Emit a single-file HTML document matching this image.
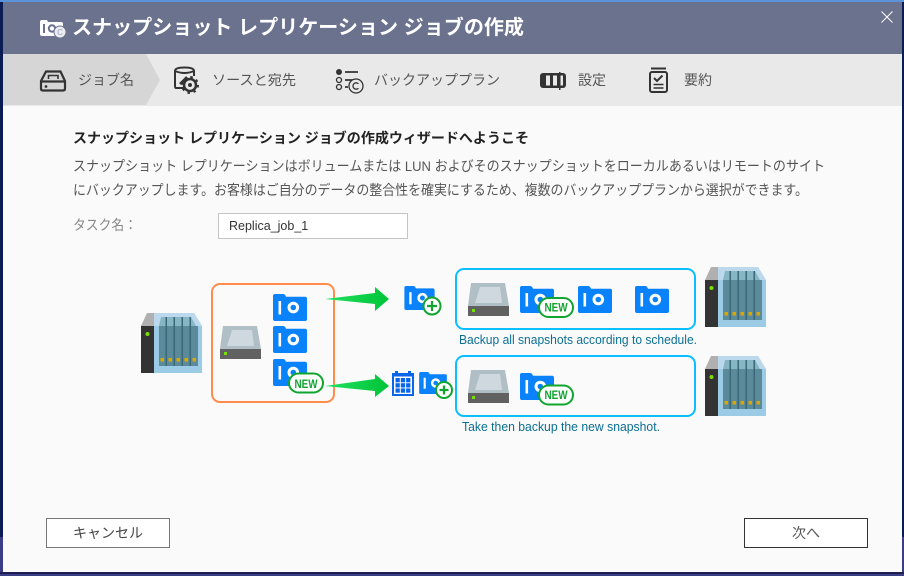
<!DOCTYPE html>
<html lang="ja">
<head>
<meta charset="utf-8">
<title>スナップショット レプリケーション ジョブの作成</title>
<style>
html,body{margin:0;padding:0;width:904px;height:576px;overflow:hidden;background:#0b1c52}
svg{display:block;position:absolute;left:0;top:0}
text{font-family:"Liberation Sans","Noto Sans CJK JP",sans-serif}
</style>
</head>
<body>
<svg width="904" height="576" viewBox="0 0 904 576" xmlns="http://www.w3.org/2000/svg">
<defs>
<linearGradient id="ag" x1="0" y1="0" x2="1" y2="0"><stop offset="0" stop-color="#22e060"/><stop offset="1" stop-color="#00c438"/></linearGradient>
<symbol id="cam" viewBox="0 0 34 27" width="34" height="27" overflow="visible">
  <path d="M0 2Q0 0 2 0H10Q12 0 13 2.700H32Q34 2.700 34 4.700V25Q34 27 32 27H2Q0 27 0 25Z" fill="#0a82fb"/>
  <rect x="5.500" y="7" width="2.600" height="13.500" fill="#fff"/>
  <circle cx="20.300" cy="13.500" r="4.300" fill="none" stroke="#fff" stroke-width="3"/>
</symbol>
<symbol id="hdd" viewBox="0 0 41 33" width="41" height="33">
  <path d="M3 0H37L41 23H0Z" fill="#b0bec5"/>
  <path d="M12 4H32L34 20H7Z" fill="#cfd8de"/>
  <rect x="0" y="23" width="41" height="10" fill="#616161"/>
  <rect x="4" y="26" width="3" height="3" fill="#76e000"/>
</symbol>
<symbol id="nas" viewBox="0 0 61 60" width="61" height="60">
  <path d="M0 13L6 0H13V13Z" fill="#b0b0b0"/>
  <rect x="0" y="13" width="13" height="47" fill="#333"/>
  <path d="M13 0H53L61 13V60H13Z" fill="#9ccbe6"/>
  <path d="M13 0H53L61 13H13Z" fill="#bcd8ec"/>
  <rect x="18" y="13" width="39" height="40" fill="#5b8a9b"/>
  <path d="M18 13L20 4H50L55 13Z" fill="#86b6c4"/>
  <g fill="#3b6876"><rect x="24.500" y="4" width="1.500" height="49"/><rect x="32.500" y="4" width="1.500" height="49"/><rect x="40.500" y="4" width="1.500" height="49"/><rect x="48.500" y="4" width="1.500" height="49"/></g>
  <g fill="#dca800"><rect x="19.500" y="45" width="3.500" height="3.500"/><rect x="27.500" y="45" width="3.500" height="3.500"/><rect x="35.500" y="45" width="3.500" height="3.500"/><rect x="43.500" y="45" width="3.500" height="3.500"/><rect x="51.500" y="45" width="3.500" height="3.500"/></g>
  <circle cx="6.500" cy="21" r="2" fill="#78dc00"/>
</symbol>
</defs>

<!-- desktop behind the window -->
<rect x="0" y="0" width="904" height="576" fill="#0b1c52"/>
<rect x="0" y="0" width="904" height="2" fill="#5b93d8"/>
<rect x="0" y="537" width="904" height="39" fill="#3b3d86"/>
<rect x="0" y="572" width="904" height="2" fill="#1c1f50"/>

<!-- window -->
<rect x="3" y="2" width="899" height="570" fill="#fafafa"/>
<rect x="3" y="2" width="899" height="52" fill="#6b728e"/>
<rect x="3" y="54" width="899" height="52" fill="#e9e9e9"/>
<path d="M3 54H146L160 80L146 105H3Z" fill="#d6d6d6"/>

<!-- title -->
<path d="M40 22Q40 20 42 20H47L48 22H61Q63 22 63 24V34Q63 36 61 36H42Q40 36 40 34Z" fill="#fff"/>
<rect x="43" y="24" width="2" height="9" fill="#6b728e"/>
<circle cx="52" cy="28.500" r="3.200" fill="none" stroke="#6b728e" stroke-width="2"/>
<circle cx="60" cy="32" r="6" fill="#eceef3" stroke="#6b728e" stroke-width="1"/>
<text x="60" y="35" font-size="8" fill="#9aa0b5" text-anchor="middle">C</text>
<text x="72" y="34" font-size="20" font-weight="700" fill="#fff" textLength="452" lengthAdjust="spacingAndGlyphs">スナップショット レプリケーション ジョブの作成</text>
<path d="M881.500 11.500L892.500 22.500M892.500 11.500L881.500 22.500" stroke="#fff" stroke-width="1" fill="none"/>

<!-- step 1 icon -->
<g fill="none" stroke="#333" stroke-width="2.200">
  <path d="M46 71.500H60.500L65 81V88.500Q65 90.500 63 90.500H43Q41 90.500 41 88.500V81Z"/>
  <path d="M41 81.500H65"/>
  <path d="M48.500 79V75.500H58V79" stroke-width="1.600"/>
</g>
<circle cx="46" cy="86.500" r="1.400" fill="#333"/>
<text x="78" y="85" font-size="14" fill="#555" textLength="56" lengthAdjust="spacingAndGlyphs">ジョブ名</text>

<!-- step 2 icon -->
<path d="M184 88H176Q175 88 175 86V71Q175 67.500 184.500 67.500Q194 67.500 194 71V76" fill="none" stroke="#333" stroke-width="2"/>
<path d="M175 71Q184.500 75 194 71" fill="none" stroke="#333" stroke-width="2"/>
<circle cx="190" cy="85" r="6" fill="#e9e9e9" stroke="#333" stroke-width="2.500"/>
<circle cx="190" cy="85" r="8" fill="none" stroke="#333" stroke-width="2" stroke-dasharray="2.500 3.800"/>
<circle cx="190" cy="85" r="2" fill="#333"/>
<path d="M180 84L187 77" stroke="#333" stroke-width="2.500" fill="none"/>
<text x="212" y="85" font-size="14" fill="#555" textLength="84" lengthAdjust="spacingAndGlyphs">ソースと宛先</text>

<!-- step 3 icon -->
<circle cx="339" cy="72" r="3" fill="#333"/>
<circle cx="339" cy="80" r="2.500" fill="none" stroke="#333" stroke-width="1.300"/>
<circle cx="339" cy="87" r="2.500" fill="none" stroke="#333" stroke-width="1.300"/>
<path d="M345 72H358M345 80H353M345 87H348" stroke="#333" stroke-width="1.800" fill="none"/>
<circle cx="356" cy="86" r="7" fill="#e9e9e9" stroke="#333" stroke-width="1.300"/>
<path d="M358.500 83.800A3.200 3.200 0 1 0 358.500 88.200" fill="none" stroke="#333" stroke-width="1.300"/>
<text x="374" y="85" font-size="14" fill="#555" textLength="126" lengthAdjust="spacingAndGlyphs">バックアッププラン</text>

<!-- step 4 icon -->
<rect x="540" y="73" width="26" height="15" rx="3" fill="#333"/>
<rect x="546" y="75.500" width="4" height="10" fill="#e9e9e9"/>
<rect x="553" y="75.500" width="4" height="10" fill="#e9e9e9"/>
<rect x="560" y="75.500" width="3" height="10" fill="#e9e9e9"/>
<rect x="559" y="72" width="1.500" height="18" fill="#333"/>
<text x="578" y="85" font-size="14" fill="#555" textLength="28" lengthAdjust="spacingAndGlyphs">設定</text>

<!-- step 5 icon -->
<rect x="651" y="67.500" width="15" height="2" fill="#333"/>
<rect x="650" y="72" width="17" height="20" rx="2" fill="none" stroke="#333" stroke-width="2"/>
<path d="M654 78L657 81L662.500 75.500" fill="none" stroke="#333" stroke-width="2"/>
<path d="M653.500 84.500H663.500M653.500 88H663.500" stroke="#333" stroke-width="1.600"/>
<text x="684" y="85" font-size="14" fill="#555" textLength="28" lengthAdjust="spacingAndGlyphs">要約</text>

<!-- body text -->
<text x="73" y="143" font-size="14" font-weight="700" fill="#222" textLength="456" lengthAdjust="spacingAndGlyphs">スナップショット レプリケーション ジョブの作成ウィザードへようこそ</text>
<text x="73" y="171" font-size="14" fill="#555" textLength="752" lengthAdjust="spacingAndGlyphs">スナップショット レプリケーションはボリュームまたは LUN およびそのスナップショットをローカルあるいはリモートのサイト</text>
<text x="73" y="195" font-size="14" fill="#555" textLength="735" lengthAdjust="spacingAndGlyphs">にバックアップします。お客様はご自分のデータの整合性を確実にするため、複数のバックアッププランから選択ができます。</text>
<text x="73" y="230" font-size="14" fill="#888" textLength="64" lengthAdjust="spacingAndGlyphs">タスク名：</text>
<rect x="218.500" y="213.500" width="189" height="25" fill="#fff" stroke="#c4c4c4"/>
<text x="229" y="230" font-size="12.500" fill="#333">Replica_job_1</text>

<!-- diagram -->
<use href="#nas" x="141" y="313"/>
<rect x="212" y="284" width="122" height="118" rx="8" fill="none" stroke="#ff8c4a" stroke-width="2"/>
<use href="#hdd" x="220" y="326"/>
<use href="#cam" x="273" y="294"/>
<use href="#cam" x="273" y="326"/>
<use href="#cam" x="273" y="359"/>
<rect x="289" y="373.500" width="34" height="19" rx="9.500" fill="#fff" stroke="#0fa52f" stroke-width="2"/>
<text x="306" y="388" font-size="11.500" font-weight="700" fill="#0fa52f" text-anchor="middle" textLength="23" lengthAdjust="spacingAndGlyphs">NEW</text>

<path d="M325 299L375 293V287L389 299L375 311V304Z" fill="url(#ag)"/>
<path d="M325 386L375 379V374L389 386L375 397V391Z" fill="url(#ag)"/>

<use href="#cam" x="404" y="286" width="31" height="24"/>
<circle cx="432" cy="306" r="8.500" fill="#fff" stroke="#0fa52f" stroke-width="2"/>
<path d="M427 306H437M432 301V311" stroke="#0fa52f" stroke-width="2.200"/>

<!-- calendar -->
<rect x="392" y="373" width="22" height="23" fill="#0a66e8"/>
<rect x="395" y="371" width="3" height="3" fill="#0a66e8"/><rect x="408" y="371" width="3" height="3" fill="#0a66e8"/>
<rect x="394" y="376.500" width="18" height="17.500" fill="#fff"/>
<g fill="#0a66e8">
  <rect x="395.500" y="378" width="4.300" height="4.300"/><rect x="400.800" y="378" width="4.300" height="4.300"/><rect x="406.100" y="378" width="4.300" height="4.300"/>
  <rect x="395.500" y="383.200" width="4.300" height="4.300"/><rect x="400.800" y="383.200" width="4.300" height="4.300"/><rect x="406.100" y="383.200" width="4.300" height="4.300"/>
  <rect x="395.500" y="388.400" width="4.300" height="4.300"/><rect x="400.800" y="388.400" width="4.300" height="4.300"/><rect x="406.100" y="388.400" width="4.300" height="4.300"/>
</g>
<use href="#cam" x="419" y="372" width="28" height="22"/>
<circle cx="444" cy="390" r="8" fill="#fff" stroke="#0fa52f" stroke-width="2"/>
<path d="M439.500 390H448.500M444 385.500V394.500" stroke="#0fa52f" stroke-width="2.200"/>

<!-- right box 1 -->
<rect x="456" y="269" width="239" height="60" rx="8" fill="none" stroke="#0abfff" stroke-width="2"/>
<use href="#hdd" x="468" y="283"/>
<use href="#cam" x="520" y="286"/>
<use href="#cam" x="578" y="286"/>
<use href="#cam" x="635" y="286"/>
<rect x="539" y="298" width="34" height="19" rx="9.500" fill="#fff" stroke="#0fa52f" stroke-width="2"/>
<text x="556" y="311.500" font-size="11.500" font-weight="700" fill="#0fa52f" text-anchor="middle" textLength="23" lengthAdjust="spacingAndGlyphs">NEW</text>
<text x="459" y="344" font-size="13" fill="#0b6f94" textLength="238" lengthAdjust="spacingAndGlyphs">Backup all snapshots according to schedule.</text>
<use href="#nas" x="705" y="267"/>

<!-- right box 2 -->
<rect x="456" y="356" width="239" height="60" rx="8" fill="none" stroke="#0abfff" stroke-width="2"/>
<use href="#hdd" x="468" y="370"/>
<use href="#cam" x="520" y="373"/>
<rect x="539" y="385.500" width="34" height="19" rx="9.500" fill="#fff" stroke="#0fa52f" stroke-width="2"/>
<text x="556" y="399" font-size="11.500" font-weight="700" fill="#0fa52f" text-anchor="middle" textLength="23" lengthAdjust="spacingAndGlyphs">NEW</text>
<text x="462" y="431" font-size="13" fill="#0b6f94" textLength="198" lengthAdjust="spacingAndGlyphs">Take then backup the new snapshot.</text>
<use href="#nas" x="705" y="356"/>

<!-- buttons -->
<rect x="46.500" y="518.500" width="123" height="29" fill="#fff" stroke="#777"/>
<text x="108" y="538" font-size="14" fill="#444" text-anchor="middle">キャンセル</text>
<rect x="744.500" y="518.500" width="123" height="29" fill="#fff" stroke="#333"/>
<text x="806" y="538" font-size="14" fill="#555" text-anchor="middle">次へ</text>
</svg>
</body>
</html>
